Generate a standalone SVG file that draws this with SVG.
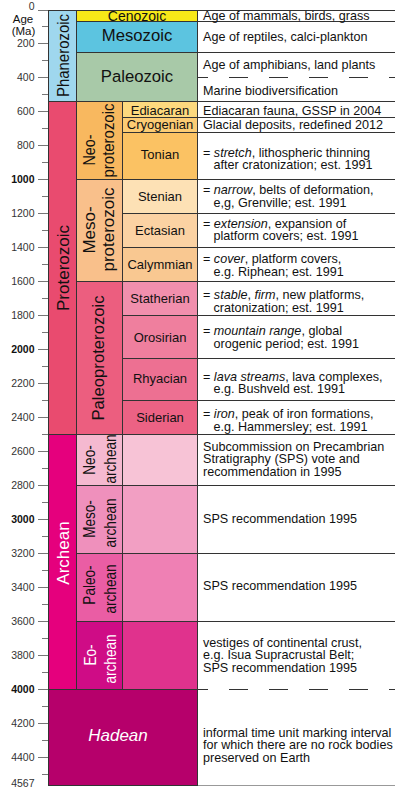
<svg xmlns="http://www.w3.org/2000/svg" width="395" height="792" viewBox="0 0 395 792">
<style>
.c{stroke:#333;stroke-width:1}
.t{font-family:"Liberation Sans",Arial,sans-serif;fill:#111}
.ax{font-family:"Liberation Sans",Arial,sans-serif;font-size:10.5px;fill:#333;text-anchor:end}
.axb{font-weight:bold;fill:#111}
.big{font-size:16.7px;text-anchor:middle}
.v{font-size:17px;text-anchor:middle}
.p{font-size:13px;text-anchor:middle}
.d{font-size:12.6px}
.w{fill:#fff}
.tk{stroke:#777;stroke-width:1}
.hl{stroke:#333;stroke-width:1}
.dl{stroke:#333;stroke-width:1;stroke-dasharray:19 21;stroke-dashoffset:8.5}
</style>
<rect width="395" height="792" fill="#fff"/>
<g id="axis">
<text class="t" x="23" y="22.5" font-size="11.5" text-anchor="middle" fill="#333">Age</text>
<text class="t" x="23.5" y="35" font-size="11.5" text-anchor="middle" fill="#333">(Ma)</text>
<g class="tk">
<line x1="38" y1="10.5" x2="48" y2="10.5"/><line x1="42" y1="26.5" x2="48" y2="26.5"/>
<line x1="38" y1="43.5" x2="48" y2="43.5"/><line x1="42" y1="60.5" x2="48" y2="60.5"/>
<line x1="38" y1="77.5" x2="48" y2="77.5"/><line x1="42" y1="94.5" x2="48" y2="94.5"/>
<line x1="38" y1="111.5" x2="48" y2="111.5"/><line x1="42" y1="128.5" x2="48" y2="128.5"/>
<line x1="38" y1="145.5" x2="48" y2="145.5"/><line x1="42" y1="162.5" x2="48" y2="162.5"/>
<line x1="38" y1="179.5" x2="48" y2="179.5"/><line x1="42" y1="196.5" x2="48" y2="196.5"/>
<line x1="38" y1="213.5" x2="48" y2="213.5"/><line x1="42" y1="230.5" x2="48" y2="230.5"/>
<line x1="38" y1="247.5" x2="48" y2="247.5"/><line x1="42" y1="264.5" x2="48" y2="264.5"/>
<line x1="38" y1="281.5" x2="48" y2="281.5"/><line x1="42" y1="298.5" x2="48" y2="298.5"/>
<line x1="38" y1="315.5" x2="48" y2="315.5"/><line x1="42" y1="332.5" x2="48" y2="332.5"/>
<line x1="38" y1="349.5" x2="48" y2="349.5"/><line x1="42" y1="366.5" x2="48" y2="366.5"/>
<line x1="38" y1="383.5" x2="48" y2="383.5"/><line x1="42" y1="400.5" x2="48" y2="400.5"/>
<line x1="38" y1="417.5" x2="48" y2="417.5"/><line x1="42" y1="434.5" x2="48" y2="434.5"/>
<line x1="38" y1="451.5" x2="48" y2="451.5"/><line x1="42" y1="468.5" x2="48" y2="468.5"/>
<line x1="38" y1="485.5" x2="48" y2="485.5"/><line x1="42" y1="502.5" x2="48" y2="502.5"/>
<line x1="38" y1="519.5" x2="48" y2="519.5"/><line x1="42" y1="536.5" x2="48" y2="536.5"/>
<line x1="38" y1="553.5" x2="48" y2="553.5"/><line x1="42" y1="570.5" x2="48" y2="570.5"/>
<line x1="38" y1="587.5" x2="48" y2="587.5"/><line x1="42" y1="604.5" x2="48" y2="604.5"/>
<line x1="38" y1="621.5" x2="48" y2="621.5"/><line x1="42" y1="638.5" x2="48" y2="638.5"/>
<line x1="38" y1="655.5" x2="48" y2="655.5"/><line x1="42" y1="672.5" x2="48" y2="672.5"/>
<line x1="38" y1="689.5" x2="48" y2="689.5"/><line x1="42" y1="706.5" x2="48" y2="706.5"/>
<line x1="38" y1="723.5" x2="48" y2="723.5"/><line x1="42" y1="740.5" x2="48" y2="740.5"/>
<line x1="38" y1="757.5" x2="48" y2="757.5"/><line x1="42" y1="774.5" x2="48" y2="774.5"/>
</g>
<text class="ax" x="34.5" y="9.5">0</text>
<text class="ax" x="34.5" y="47">200</text>
<text class="ax" x="34.5" y="81">400</text>
<text class="ax" x="34.5" y="115">600</text>
<text class="ax" x="34.5" y="149">800</text>
<text class="ax axb" x="34.5" y="183">1000</text>
<text class="ax" x="34.5" y="217">1200</text>
<text class="ax" x="34.5" y="251">1400</text>
<text class="ax" x="34.5" y="285">1600</text>
<text class="ax" x="34.5" y="319">1800</text>
<text class="ax axb" x="34.5" y="353">2000</text>
<text class="ax" x="34.5" y="387">2200</text>
<text class="ax" x="34.5" y="421">2400</text>
<text class="ax" x="34.5" y="455">2600</text>
<text class="ax" x="34.5" y="489">2800</text>
<text class="ax axb" x="34.5" y="523">3000</text>
<text class="ax" x="34.5" y="557">3200</text>
<text class="ax" x="34.5" y="591">3400</text>
<text class="ax" x="34.5" y="625">3600</text>
<text class="ax" x="34.5" y="659">3800</text>
<text class="ax axb" x="34.5" y="693">4000</text>
<text class="ax" x="34.5" y="727">4200</text>
<text class="ax" x="34.5" y="761">4400</text>
<text class="ax" x="34.5" y="787">4567</text>
</g>
<g id="connectors">
<g class="hl">
<line x1="197.5" y1="10.5" x2="395" y2="10.5"/>
<line x1="197.5" y1="21.5" x2="395" y2="21.5"/>
<line x1="197.5" y1="52.5" x2="395" y2="52.5"/>
<line x1="197.5" y1="101.5" x2="395" y2="101.5"/>
<line x1="197.5" y1="117.5" x2="395" y2="117.5"/>
<line x1="197.5" y1="132.5" x2="395" y2="132.5"/>
<line x1="197.5" y1="179.5" x2="395" y2="179.5"/>
<line x1="197.5" y1="213.5" x2="395" y2="213.5"/>
<line x1="197.5" y1="247.5" x2="395" y2="247.5"/>
<line x1="197.5" y1="281.5" x2="395" y2="281.5"/>
<line x1="197.5" y1="315.5" x2="395" y2="315.5"/>
<line x1="197.5" y1="358.5" x2="395" y2="358.5"/>
<line x1="197.5" y1="400.5" x2="395" y2="400.5"/>
<line x1="197.5" y1="434.5" x2="395" y2="434.5"/>
<line x1="197.5" y1="485.5" x2="395" y2="485.5"/>
<line x1="197.5" y1="553.5" x2="395" y2="553.5"/>
<line x1="197.5" y1="621.5" x2="395" y2="621.5"/>
</g>
<line class="dl" x1="197.5" y1="77.5" x2="395" y2="77.5"/>
<line class="dl" x1="197.5" y1="689.5" x2="395" y2="689.5"/>
<line x1="197.5" y1="785.5" x2="395" y2="785.5" stroke="#999" stroke-width="1"/>
</g>
<g id="phanerozoic">
<rect class="c" x="48.5" y="10.5" width="28" height="91" fill="#9fd7ee"/>
<text class="t v" transform="translate(68.5,55.5) rotate(-90) scale(0.88,1)">Phanerozoic</text>
</g>
<g id="cenozoic">
<rect class="c" x="76.5" y="10.5" width="121" height="11" fill="#f7e818"/>
<text class="t" x="137" y="20.5" font-size="14" text-anchor="middle">Cenozoic</text>
</g>
<g id="mesozoic">
<rect class="c" x="76.5" y="21.5" width="121" height="31" fill="#5cc4e0"/>
<text class="t big" x="137" y="41">Mesozoic</text>
</g>
<g id="paleozoic">
<rect class="c" x="76.5" y="52.5" width="121" height="49" fill="#a8c9a8"/>
<text class="t big" x="137" y="81.5">Paleozoic</text>
</g>
<g id="proterozoic">
<rect class="c" x="48.5" y="101.5" width="28" height="333" fill="#e94b6f"/>
<text class="t v" transform="translate(68.5,268) rotate(-90)">Proterozoic</text>
</g>
<g id="neoproterozoic">
<rect class="c" x="76.5" y="101.5" width="46" height="78" fill="#f8b85f"/>
<text class="t v" transform="translate(95,150) rotate(-90) scale(0.84,1)">Neo-</text>
<text class="t v" transform="translate(114,140.5) rotate(-90) scale(0.88,1)">proterozoic</text>
</g>
<g id="mesoproterozoic">
<rect class="c" x="76.5" y="179.5" width="46" height="102" fill="#f9c08b"/>
<text class="t v" transform="translate(95,230) rotate(-90)">Meso-</text>
<text class="t v" transform="translate(114,229.5) rotate(-90)">proterozoic</text>
</g>
<g id="paleoproterozoic">
<rect class="c" x="76.5" y="281.5" width="46" height="153" fill="#ec5e7f"/>
<text class="t" font-size="16.7" text-anchor="middle" transform="translate(103.5,358) rotate(-90)">Paleoproterozoic</text>
</g>
<g id="ediacaran"><rect class="c" x="122.5" y="101.5" width="75" height="16" fill="#fdd97e"/><text class="t p" x="160" y="114.5">Ediacaran</text></g>
<g id="cryogenian"><rect class="c" x="122.5" y="117.5" width="75" height="15" fill="#fccc74"/><text class="t p" x="160" y="129.3">Cryogenian</text></g>
<g id="tonian"><rect class="c" x="122.5" y="132.5" width="75" height="47" fill="#fbc263"/><text class="t p" x="160" y="159.3">Tonian</text></g>
<g id="stenian"><rect class="c" x="122.5" y="179.5" width="75" height="34" fill="#fde1b5"/><text class="t p" x="160" y="201">Stenian</text></g>
<g id="ectasian"><rect class="c" x="122.5" y="213.5" width="75" height="34" fill="#fbd2a3"/><text class="t p" x="160" y="234.7">Ectasian</text></g>
<g id="calymmian"><rect class="c" x="122.5" y="247.5" width="75" height="34" fill="#f9c891"/><text class="t p" x="160" y="268.7">Calymmian</text></g>
<g id="statherian"><rect class="c" x="122.5" y="281.5" width="75" height="34" fill="#f18fad"/><text class="t p" x="160" y="303.3">Statherian</text></g>
<g id="orosirian"><rect class="c" x="122.5" y="315.5" width="75" height="43" fill="#ef7f9e"/><text class="t p" x="160" y="341.7">Orosirian</text></g>
<g id="rhyacian"><rect class="c" x="122.5" y="358.5" width="75" height="42" fill="#ed7092"/><text class="t p" x="160" y="383.3">Rhyacian</text></g>
<g id="siderian"><rect class="c" x="122.5" y="400.5" width="75" height="34" fill="#ec6284"/><text class="t p" x="160" y="421.7">Siderian</text></g>
<g id="archean">
<rect class="c" x="48.5" y="434.5" width="28" height="255" fill="#e5007d"/>
<text class="t v w" transform="translate(68.5,553) rotate(-90)">Archean</text>
</g>
<g id="neoarchean">
<rect class="c" x="76.5" y="434.5" width="46" height="51" fill="#f5b9d0"/>
<rect class="c" x="122.5" y="434.5" width="75" height="51" fill="#f7c3d6"/>
<text class="t v" transform="translate(95,460) rotate(-90) scale(0.8,1)">Neo-</text>
<text class="t v" transform="translate(116,459) rotate(-90) scale(0.8,1)">archean</text>
</g>
<g id="mesoarchean">
<rect class="c" x="76.5" y="485.5" width="46" height="68" fill="#ef90bc"/>
<rect class="c" x="122.5" y="485.5" width="75" height="68" fill="#f29fc3"/>
<text class="t v" transform="translate(95,519) rotate(-90) scale(0.8,1)">Meso-</text>
<text class="t v" transform="translate(116,523) rotate(-90) scale(0.8,1)">archean</text>
</g>
<g id="paleoarchean">
<rect class="c" x="76.5" y="553.5" width="46" height="68" fill="#ea5da4"/>
<rect class="c" x="122.5" y="553.5" width="75" height="68" fill="#ef80b4"/>
<text class="t v" transform="translate(95,585) rotate(-90) scale(0.8,1)">Paleo-</text>
<text class="t v" transform="translate(116,589) rotate(-90) scale(0.8,1)">archean</text>
</g>
<g id="eoarchean">
<rect class="c" x="76.5" y="621.5" width="46" height="68" fill="#cf0c86"/>
<rect class="c" x="122.5" y="621.5" width="75" height="68" fill="#e0328d"/>
<text class="t v w" transform="translate(95.5,655) rotate(-90) scale(0.8,1)">Eo-</text>
<text class="t v w" transform="translate(116,659) rotate(-90) scale(0.8,1)">archean</text>
</g>
<g id="hadean">
<rect class="c" x="48.5" y="689.5" width="149" height="96" fill="#b6006b"/>
<text class="t w" x="118" y="741" font-size="17" font-style="italic" text-anchor="middle">Hadean</text>
</g>
<g id="descriptions" class="t d">
<text x="203" y="19.7">Age of mammals, birds, grass</text>
<text x="203" y="40.7">Age of reptiles, calci-plankton</text>
<text x="203" y="69.3">Age of amphibians, land plants</text>
<text x="203" y="95">Marine biodiversification</text>
<text x="203" y="115">Ediacaran fauna, GSSP in 2004</text>
<text x="203" y="128.5">Glacial deposits, redefined 2012</text>
<text x="203" y="156.7">= <tspan font-style="italic">stretch</tspan>, lithospheric thinning</text>
<text x="213.5" y="169.3">after cratonization; est. 1991</text>
<text x="203" y="194">= <tspan font-style="italic">narrow</tspan>, belts of deformation,</text>
<text x="213.5" y="206.7">e,g, Grenville; est. 1991</text>
<text x="203" y="227.7">= <tspan font-style="italic">extension</tspan>, expansion of</text>
<text x="213.5" y="240.3">platform covers; est. 1991</text>
<text x="203" y="263.3">= <tspan font-style="italic">cover</tspan>, platform covers,</text>
<text x="213.5" y="276">e.g. Riphean; est. 1991</text>
<text x="203" y="299">= <tspan font-style="italic">stable</tspan>, <tspan font-style="italic">firm</tspan>, new platforms,</text>
<text x="213.5" y="311.7">cratonization; est. 1991</text>
<text x="203" y="335">= <tspan font-style="italic">mountain range</tspan>, global</text>
<text x="213.5" y="347.7">orogenic period; est. 1991</text>
<text x="203" y="380.7">= <tspan font-style="italic">lava streams</tspan>, lava complexes,</text>
<text x="213.5" y="393.3">e.g. Bushveld est. 1991</text>
<text x="203" y="418.3">= <tspan font-style="italic">iron</tspan>, peak of iron formations,</text>
<text x="213.5" y="431">e.g. Hammersley; est. 1991</text>
<text x="203" y="450.7">Subcommission on Precambrian</text>
<text x="203" y="463.3">Stratigraphy (SPS) vote and</text>
<text x="203" y="476">recommendation in 1995</text>
<text x="203" y="522.7">SPS recommendation 1995</text>
<text x="203" y="590">SPS recommendation 1995</text>
<text x="203" y="646.7">vestiges of continental crust,</text>
<text x="203" y="659.3">e.g. Isua Supracrustal Belt;</text>
<text x="203" y="672">SPS recommendation 1995</text>
<text x="203" y="736.7">informal time unit marking interval</text>
<text x="203" y="749.3">for which there are no rock bodies</text>
<text x="203" y="762">preserved on Earth</text>
</g>
</svg>
